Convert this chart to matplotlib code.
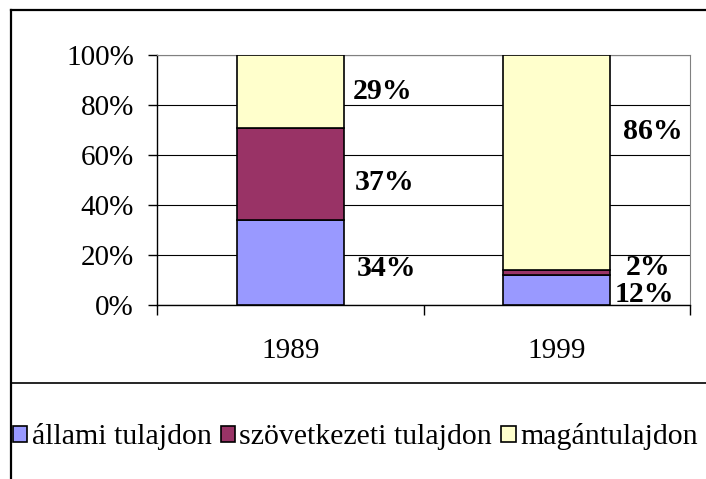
import matplotlib.pyplot as plt
from matplotlib.lines import Line2D
from matplotlib.patches import Patch

plt.rcParams['font.family'] = ['Liberation Serif', 'DejaVu Serif']

# adatok
years = ["1989", "1999"]
labels = ["állami tulajdon", "szövetkezeti tulajdon", "magántulajdon"]
allami = [34, 12]
szovetkezeti = [37, 2]
magan = [29, 86]
colors = ["#9999FF", "#993366", "#FFFFCC"]

fig = plt.figure(figsize=(7.06, 4.79), dpi=100)
ax = fig.add_axes([157 / 706, 1 - 305 / 479, 533 / 706, 250 / 479])

x = range(len(years))
series = [allami, szovetkezeti, magan]
bottom = [0, 0]
for vals, col, lab in zip(series, colors, labels):
    ax.bar(x, vals, width=0.4, bottom=bottom, color=col, edgecolor="black",
           linewidth=1.2, label=lab, zorder=3)
    bottom = [b + v for b, v in zip(bottom, vals)]

# értékcímkék
lbl = dict(fontsize=21.5, fontweight="bold", va="center")
ax.text(0.233, allami[0] + szovetkezeti[0] + magan[0] / 2, f"{magan[0]}%", ha="left", **lbl)
ax.text(0.243, allami[0] + szovetkezeti[0] / 2 - 3.5, f"{szovetkezeti[0]}%", ha="left", **lbl)
ax.text(0.25, allami[0] / 2 - 2.5, f"{allami[0]}%", ha="left", **lbl)
ax.text(1.25, 69.5, f"{magan[1]}%", ha="left", **lbl)
ax.text(1.343, 15, f"{szovetkezeti[1]}%", ha="center", **lbl)
ax.text(1.33, 4, f"{allami[1]}%", ha="center", **lbl)

ax.set_xlim(-0.5, 1.5)
ax.set_ylim(0, 100)
ax.set_yticks(range(0, 101, 20))
ax.set_yticklabels([f"{v}%" for v in range(0, 101, 20)])
ax.set_xticks(list(x))
ax.set_xticklabels(years)
ax.set_xticks([-0.5, 0.5, 1.5], minor=True)
ax.tick_params(axis="x", which="major", length=0, pad=24, labelsize=21)
ax.tick_params(axis="x", which="minor", length=7, direction="out", width=1)
ax.tick_params(axis="y", length=6.5, width=1, pad=10, labelsize=21)
ax.yaxis.grid(True, color="black", linewidth=0.8, zorder=0)
for s in ["top", "right"]:
    ax.spines[s].set_color("#808080")
for s in ["left", "bottom"]:
    ax.spines[s].set_linewidth(1)

# keret és elválasztó vonal
fig.add_artist(Line2D([11 / 706, 1], [1 - 10 / 479] * 2, color="black", linewidth=1.6))
fig.add_artist(Line2D([11 / 706] * 2, [0, 1 - 10 / 479], color="black", linewidth=1.6))
fig.add_artist(Line2D([11 / 706, 1], [1 - 383 / 479] * 2, color="black", linewidth=1.2))

handles = [Patch(facecolor=c, edgecolor="black", linewidth=1.2) for c in colors]
fig.legend(handles, labels, loc="center left", bbox_to_anchor=(13 / 706, 1 - 437 / 479),
           ncol=3, frameon=False, fontsize=21.5, handlelength=0.48, handleheight=0.48,
           handletextpad=0.15, columnspacing=0.3, borderpad=0, borderaxespad=0)

fig.savefig("out.png", dpi=100)
